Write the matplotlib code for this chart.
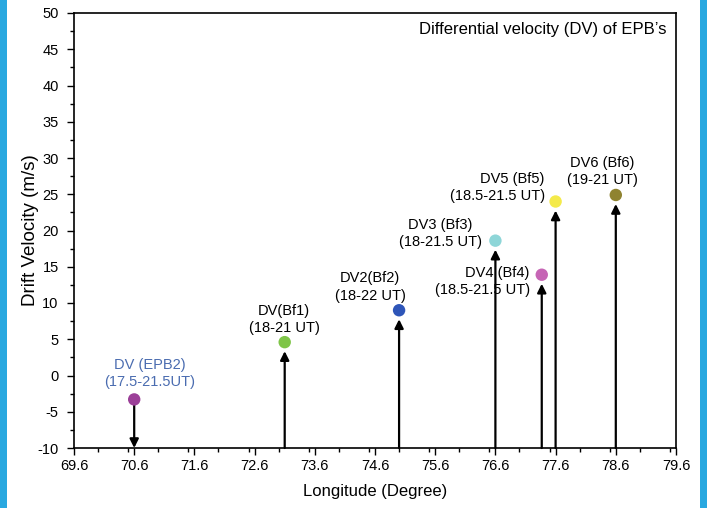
import matplotlib
matplotlib.use("Agg")
import matplotlib.pyplot as plt
from matplotlib.patches import Rectangle
from matplotlib.ticker import MultipleLocator

plt.rcParams['font.family'] = ['Liberation Sans', 'DejaVu Sans']
plt.rcParams['axes.unicode_minus'] = False

# Data
names = ["DV (EPB2)\n(17.5-21.5UT)", "DV(Bf1)\n(18-21 UT)", "DV2(Bf2)\n(18-22 UT)",
         "DV3 (Bf3)\n(18-21.5 UT)", "DV4 (Bf4)\n(18.5-21.5 UT)", "DV5 (Bf5)\n(18.5-21.5 UT)",
         "DV6 (Bf6)\n(19-21 UT)"]
longitude = [70.6, 73.1, 75.0, 76.6, 77.37, 77.6, 78.6]
velocity = [-3.3, 4.6, 9.0, 18.6, 13.9, 24.0, 24.9]
colors = ["#9b3f98", "#7fc548", "#2e55b8", "#8ed6d8", "#c665b5", "#f4ea4a", "#8f8330"]
xticks = [69.6, 70.6, 71.6, 72.6, 73.6, 74.6, 75.6, 76.6, 77.6, 78.6, 79.6]

# label placement (data coords) and alignment
label_pos = [(70.86, 0.3), (73.09, 7.7), (74.52, 12.2), (75.68, 19.6),
             (77.17, 13.0), (77.42, 25.9), (78.37, 28.1)]
label_ha = ["center", "center", "center", "center", "right", "right", "center"]
label_col = ["#4a6cb0", "black", "black", "black", "black", "black", "black"]

fig = plt.figure(figsize=(7.09, 5.08), dpi=100)
ax = fig.add_axes([74/709, 1-448/508, 602/709, 435/508])

# blue frame bars
fig.patches.append(Rectangle((0, 0), 7/709, 1, transform=fig.transFigure,
                             facecolor="#29a8e0", edgecolor="none", zorder=10))
fig.patches.append(Rectangle((700/709, 0), 7/709, 1, transform=fig.transFigure,
                             facecolor="#29a8e0", edgecolor="none", zorder=10))

for x, y, c in zip(longitude, velocity, colors):
    if y >= 0:
        ax.annotate('', xy=(x, y), xytext=(x, -10),
                    arrowprops=dict(arrowstyle='-|>', color='black', lw=1.6,
                                    shrinkA=0, shrinkB=6.5, mutation_scale=13),
                    zorder=2)
    else:
        ax.annotate('', xy=(x, -10), xytext=(x, y),
                    arrowprops=dict(arrowstyle='-|>', color='black', lw=1.6,
                                    shrinkA=3, shrinkB=0, mutation_scale=13),
                    zorder=2)
    ax.scatter([x], [y], s=80, color=c, zorder=3, edgecolors='none')

for name, (tx, ty), ha, tc in zip(names, label_pos, label_ha, label_col):
    ax.text(tx, ty, name, ha=ha, va='center', multialignment=ha,
            fontsize=10.5, color=tc, linespacing=1.3)

ax.text(0.985, 0.963, "Differential velocity (DV) of EPB\u2019s", transform=ax.transAxes,
        ha='right', va='center', fontsize=12)

ax.set_xlim(69.6, 79.6)
ax.set_ylim(-10, 50)
ax.set_xticks(xticks)
ax.set_xticklabels([f"{v:.1f}" for v in xticks])
ax.xaxis.set_minor_locator(MultipleLocator(0.5))
ax.yaxis.set_major_locator(MultipleLocator(5))
ax.yaxis.set_minor_locator(MultipleLocator(2.5))
ax.tick_params(which='major', direction='out', length=5, width=1, labelsize=10.5)
ax.tick_params(axis='x', which='major', pad=3)
ax.tick_params(axis='y', which='major', pad=6)
ax.tick_params(which='minor', direction='out', length=3, width=1)
for s in ax.spines.values():
    s.set_linewidth(1.2)

ax.set_xlabel("Longitude (Degree)", fontsize=12, labelpad=8)
ax.set_ylabel("Drift Velocity (m/s)", fontsize=13.5, labelpad=-1)

fig.savefig("out.png", dpi=100)
